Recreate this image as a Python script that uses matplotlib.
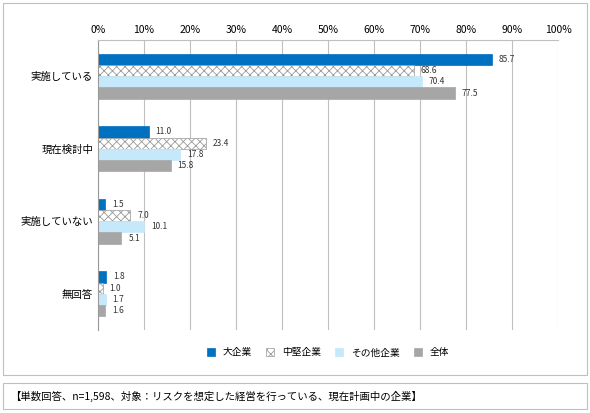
import numpy as np
import matplotlib.pyplot as plt
from matplotlib.patches import Rectangle

plt.rcParams['font.family'] = ['Noto Sans CJK JP', 'DejaVu Sans']
plt.rcParams['hatch.color'] = '#999999'
plt.rcParams['hatch.linewidth'] = 0.6

categories = ['実施している', '現在検討中', '実施していない', '無回答']
series = ['大企業', '中堅企業', 'その他企業', '全体']
large = [85.7, 11.0, 1.5, 1.8]
mid = [68.6, 23.4, 7.0, 1.0]
other = [70.4, 17.8, 10.1, 1.7]
total = [77.5, 15.8, 5.1, 1.6]
colors = ['#0070c0', 'white', '#c5e9fb', '#a6a6a6']
hatches = [None, 'xxxx', None, None]
note = '【単数回答、n=1,598、対象：リスクを想定した経営を行っている、現在計画中の企業】'

fig = plt.figure(figsize=(5.9, 4.13), dpi=100)
ax = fig.add_axes([98/590, 1 - 330/413, 460/590, 290/413])

y = np.arange(len(categories))
h = 0.155
for i, (vals, c, ht, name) in enumerate(zip([large, mid, other, total], colors, hatches, series)):
    pos = y + (i - 1.5) * h
    ax.barh(pos, vals, height=h, color=c, hatch=ht,
            edgecolor='#999999' if ht else c, linewidth=0.5, label=name)
    for p, v in zip(pos, vals):
        ax.text(v + 1.5, p, f'{v:.1f}', va='center', fontsize=6, color='#333333')

ax.set_xlim(0, 100)
ax.set_ylim(len(categories) - 0.5, -0.5)
ax.xaxis.tick_top()
ax.set_xticks(np.arange(0, 101, 10))
ax.set_xticklabels([f'{t}%' for t in range(0, 101, 10)], fontsize=7.5)
ax.set_yticks(y)
ax.set_yticklabels(categories, fontsize=7.5)
ax.tick_params(length=0)
ax.grid(axis='x', color='#bfbfbf', linewidth=0.8)
ax.set_axisbelow(True)
for s in ['right', 'bottom']:
    ax.spines[s].set_visible(False)
ax.spines['top'].set_color('#bfbfbf')
ax.spines['left'].set_color('#999999')

ax.legend(loc='upper center', bbox_to_anchor=(0.5, -0.03), ncol=4, frameon=False,
          fontsize=7, handlelength=0.8, handleheight=0.8, columnspacing=1.5)

fig.patches.append(Rectangle((3/590, 1 - 375/413), 584/590, 372/413, transform=fig.transFigure,
                             fill=False, edgecolor='#bfbfbf', linewidth=0.8))
fig.patches.append(Rectangle((3/590, 1 - 409/413), 584/590, 26/413, transform=fig.transFigure,
                             fill=False, edgecolor='#bfbfbf', linewidth=0.8))
fig.text(10/590, 1 - 396/413, note, fontsize=7.5, va='center')

fig.savefig('out.png', dpi=100)
